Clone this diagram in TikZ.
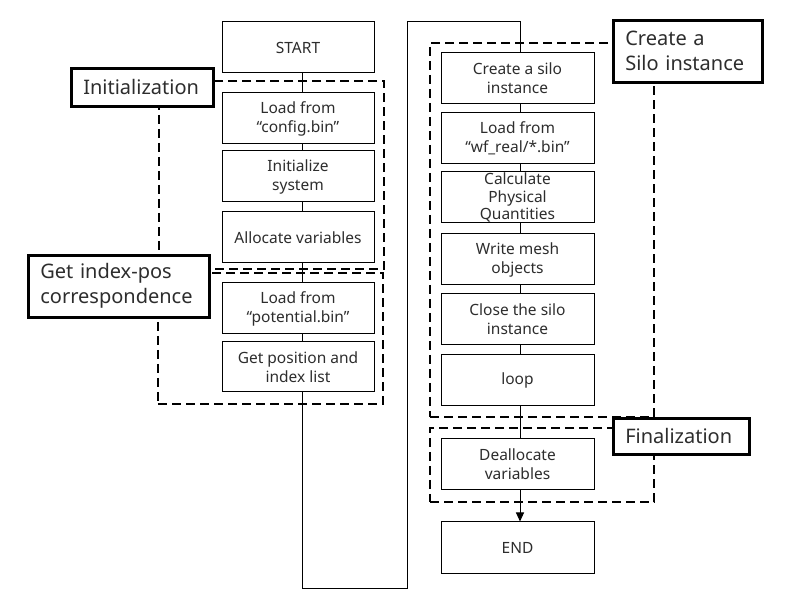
\documentclass[tikz,border=0pt]{standalone}
\usepackage{fontspec}
\setmainfont{Noto Sans}
\usetikzlibrary{arrows.meta}
\definecolor{txt}{RGB}{45,45,45}
\begin{document}
\begin{tikzpicture}[x=1pt,y=-1pt,
  stepbox/.style={draw, fill=white, line width=1pt, minimum width=152pt, minimum height=51pt,
    inner sep=0pt, align=center, font=\fontsize{15.5}{19}\selectfont, text=txt},
  grp/.style={draw, line width=2pt, dash pattern=on 9pt off 5pt, inner sep=0pt},
  lbl/.style={draw, fill=white, line width=2.6pt, anchor=north west, align=left, inner ysep=0pt,
    inner xsep=12pt, font=\fontsize{20}{25}\selectfont, text=txt},
  flow/.style={line width=1pt}]
\useasboundingbox (0,0) rectangle (785,601);

% group frames
\node[grp, minimum width=225pt, minimum height=188pt] (ginit) at (271.5,175) {};
\node[grp, minimum width=225pt, minimum height=131pt] (gidx) at (270.5,338.5) {};
\node[grp, minimum width=224pt, minimum height=374pt] (gsilo) at (542,230) {};
\node[grp, minimum width=224pt, minimum height=74pt] (gfin) at (542,465) {};

% helper coordinates
\coordinate (lx) at (302,0);
\coordinate (rx) at (520,0);
\coordinate (mx) at (407,0);
\coordinate (bot) at (0,588);
\coordinate (top) at (0,22);

% left column
\node[stepbox] (start) at (298,47.5) {START};
\node[stepbox] (cfg) at (298,118.5) {Load from\\“config.bin”};
\node[stepbox] (isys) at (298,176.5) {Initialize\\system};
\node[stepbox] (alloc) at (298,237.5) {Allocate variables};
\node[stepbox] (pot) at (298,308.5) {Load from\\“potential.bin”};
\node[stepbox, minimum height=50pt] (getpos) at (298,367) {Get position and\\index list};

% right column
\node[stepbox, minimum width=153pt] (silo) at (517.5,78.5) {Create a silo\\instance};
\node[stepbox, minimum width=153pt] (wf) at (517.5,138.5) {Load from\\“wf\_real/*.bin”};
\node[stepbox, minimum width=153pt, font=\fontsize{15.5}{17.5}\selectfont] (calc) at (517.5,197.5) {Calculate\\Physical\\Quantities};
\node[stepbox, minimum width=153pt] (mesh) at (517.5,259.5) {Write mesh\\objects};
\node[stepbox, minimum width=153pt] (close) at (517.5,319.5) {Close the silo\\instance};
\node[stepbox, minimum width=153pt] (loop) at (517.5,380.5) {loop};
\node[stepbox, minimum width=153pt] (dealloc) at (517.5,464.5) {Deallocate\\variables};
\node[stepbox, minimum width=153pt] (fin) at (517.5,547.5) {END};

% connectors
\draw[flow] (start.south -| lx) -- (cfg.north -| lx);
\draw[flow] (cfg.south -| lx) -- (isys.north -| lx);
\draw[flow] (isys.south -| lx) -- (alloc.north -| lx);
\draw[flow] (alloc.south -| lx) -- (pot.north -| lx);
\draw[flow] (pot.south -| lx) -- (getpos.north -| lx);
\draw[flow] (getpos.south -| lx) -- (lx |- bot) -- (mx |- bot) -- (mx |- top) -- (rx |- top) -- (silo.north -| rx);
\draw[flow] (silo.south -| rx) -- (wf.north -| rx);
\draw[flow] (wf.south -| rx) -- (calc.north -| rx);
\draw[flow] (calc.south -| rx) -- (mesh.north -| rx);
\draw[flow] (mesh.south -| rx) -- (close.north -| rx);
\draw[flow] (close.south -| rx) -- (loop.north -| rx);
\draw[flow] (loop.south -| rx) -- (dealloc.north -| rx);
\draw[flow, -{Triangle[length=9pt,width=8pt]}] (dealloc.south -| rx) -- (fin.north -| rx);

% group labels
\node[lbl, minimum height=38pt, text width=118pt] (linit) at (70,67) {Initialization};
\node[lbl, minimum height=62pt, text width=157pt] (lidx) at (27,254) {Get index-pos\\correspondence};
\node[lbl, minimum height=62pt, text width=125pt] (lsilo) at (612,19) {Create a\\Silo instance};
\node[lbl, minimum height=36pt, text width=112pt] (lfin) at (612,417) {Finalization};
\end{tikzpicture}
\end{document}
